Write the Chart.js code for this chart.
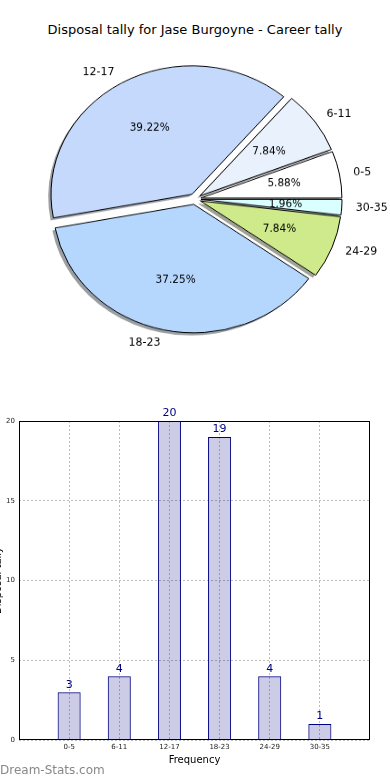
<!DOCTYPE html>
<html><head><meta charset="utf-8">
<script src="https://cdn.jsdelivr.net/npm/chart.js@4.4.0/dist/chart.umd.min.js"></script>
<style>
html,body{margin:0;padding:0;background:#fff;width:390px;height:780px;overflow:hidden;position:relative;font-family:"DejaVu Sans",sans-serif;}
#title{position:absolute;left:0;top:21px;width:390px;text-align:center;font-size:13px;color:#000;line-height:18px;}
#pieWrap{position:absolute;left:0;top:28.8px;width:390px;height:340px;transform:scaleY(0.911);transform-origin:50% 50%;}
#barWrap{position:absolute;left:0;top:400px;width:390px;height:380px;}
#wm{position:absolute;left:0;top:762px;font-size:12px;color:#888;line-height:16px;}
</style></head><body>
<div id="title">Disposal tally for Jase Burgoyne - Career tally</div>
<div id="pieWrap"><canvas id="pie" width="390" height="340"></canvas></div>
<div id="barWrap"><canvas id="bar" width="390" height="380"></canvas></div>
<div id="wm">Dream-Stats.com</div>
<script>
const categories = ['0-5','6-11','12-17','18-23','24-29','30-35'];
const tallies = [3, 4, 20, 19, 4, 1];
const pieColors = ['#ffffff','#e9f1fd','#c5d9fc','#b5d6fd','#cfea8b','#d9ffff'];
const yTicks = [0, 5, 10, 15, 20];
const yTitle = 'Disposal tally';
const xTitle = 'Frequency';

const FONT = '"DejaVu Sans", sans-serif';
const SY = 0.911, R = 141, EXPLODE = 6, SH = 2.8;
const total = tallies.reduce((a,b)=>a+b,0);

// library order: clockwise from 3 o'clock == reverse of matplotlib's counter-clockwise order
const pieLabels = categories.slice().reverse();
const pieData = tallies.slice().reverse();
const pieBg = pieColors.slice().reverse();

function hexRgb(h){const n=parseInt(h.slice(1),16);return [(n>>16)&255,(n>>8)&255,n&255];}

const pieFx = {
  id:'pieFx',
  afterDatasetsUpdate(chart){
    chart.getDatasetMeta(0).data.forEach(el=>{
      const m=(el.startAngle+el.endAngle)/2;
      el.x += EXPLODE*Math.cos(m); el.y += EXPLODE*Math.sin(m);
    });
  },
  beforeDatasetsDraw(chart){
    const ctx=chart.ctx;
    chart.getDatasetMeta(0).data.forEach((el,i)=>{
      const c=hexRgb(pieBg[i]);
      ctx.save();
      ctx.fillStyle=`rgba(${c[0]*0.3},${c[1]*0.3},${c[2]*0.3},0.5)`;
      ctx.beginPath();
      ctx.moveTo(el.x-SH, el.y+SH);
      ctx.arc(el.x-SH, el.y+SH, el.outerRadius, el.startAngle, el.endAngle);
      ctx.closePath(); ctx.fill(); ctx.restore();
    });
  },
  afterDatasetsDraw(chart){
    const ctx=chart.ctx;
    chart.getDatasetMeta(0).data.forEach((el,i)=>{
      const m=(el.startAngle+el.endAngle)/2, c=Math.cos(m), s=Math.sin(m);
      const put=(t,x,y,align,size)=>{
        ctx.save(); ctx.translate(x,y); ctx.scale(1,1/SY);
        ctx.font=size+'px '+FONT; ctx.fillStyle='#000';
        ctx.textAlign=align; ctx.textBaseline='middle';
        ctx.fillText(t,0,0); ctx.restore();
      };
      put(pieLabels[i], el.x+1.1*el.outerRadius*c, el.y+1.1*el.outerRadius*s, c>0?'left':'right', 11);
      put((pieData[i]/total*100).toFixed(2)+'%', el.x+0.6*el.outerRadius*c, el.y+0.6*el.outerRadius*s, 'center', 10.5);
    });
  }
};

new Chart(document.getElementById('pie'), {
  type:'pie',
  data:{labels:pieLabels, datasets:[{data:pieData, backgroundColor:pieBg, borderColor:'#000', borderWidth:1, radius:R, hoverOffset:0}]},
  options:{responsive:false, animation:false, rotation:90, events:[], layout:{padding:0},
    plugins:{legend:{display:false}, tooltip:{enabled:false}}},
  plugins:[pieFx]
});

const barFx = {
  id:'barFx',
  afterDatasetsDraw(chart){
    const ctx=chart.ctx;
    chart.getDatasetMeta(0).data.forEach((el,i)=>{
      ctx.save(); ctx.font='11px '+FONT; ctx.fillStyle='#000080';
      ctx.textAlign='center'; ctx.textBaseline='bottom';
      ctx.fillText(String(tallies[i]), el.x, el.y-2); ctx.restore();
    });
  },
  afterDraw(chart){
    const ctx=chart.ctx, a=chart.chartArea;
    ctx.save(); ctx.strokeStyle='#000'; ctx.lineWidth=1;
    ctx.strokeRect(Math.round(a.left)+0.5, Math.round(a.top)+0.5, Math.round(a.right-a.left)-1, Math.round(a.bottom-a.top)-1);
    ctx.translate(-2,(a.top+a.bottom)/2); ctx.rotate(-Math.PI/2);
    ctx.font='10px '+FONT; ctx.fillStyle='#000'; ctx.textAlign='center'; ctx.textBaseline='middle';
    ctx.fillText(yTitle,0,0); ctx.restore();
  }
};

new Chart(document.getElementById('bar'), {
  type:'bar',
  data:{datasets:[{data:tallies.map((v,i)=>({x:i,y:v})), backgroundColor:'rgba(0,0,128,0.2)', borderColor:'#000080', borderWidth:1, barPercentage:0.46, categoryPercentage:1}]},
  options:{responsive:false, animation:false, events:[],
    layout:{padding:{top:21,right:20,left:0,bottom:0}},
    plugins:{legend:{display:false}, tooltip:{enabled:false}},
    scales:{
      x:{type:'linear', min:-1, max:6, offset:false,
        afterBuildTicks(s){s.ticks=categories.map((_,i)=>({value:i}));},
        afterFit(s){s.height=40;},
        ticks:{callback:(v)=>categories[v]??'', font:{size:7,family:FONT}, color:'#222', padding:3, maxRotation:0, autoSkip:false},
        grid:{color:'#bdbdbd', lineWidth:1, drawTicks:false, offset:false},
        border:{display:false, dash:[2,2]},
        title:{display:true, text:xTitle, font:{size:10,family:FONT}, color:'#000', padding:{top:0,bottom:14}}
      },
      y:{min:0, max:20,
        afterBuildTicks(s){s.ticks=yTicks.map(v=>({value:v}));},
        afterFit(s){s.width=19;},
        ticks:{font:{size:7,family:FONT}, color:'#222', padding:4},
        grid:{color:'#bdbdbd', lineWidth:1, drawTicks:false},
        border:{display:false, dash:[2,2]}
      }
    }
  },
  plugins:[barFx]
});
</script>
</body></html>
